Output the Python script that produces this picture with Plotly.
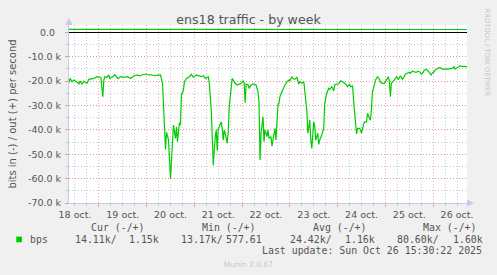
import pandas as pd
import plotly.graph_objects as go

# ---------------- data ----------------
start_time = "2025-10-18 09:00"
end_time = "2025-10-26 17:00"

# hours since start_time
in_hours = [0, 0.5, 1.5, 2.5, 4, 5, 5.5, 6.5, 7.5, 9,
            10, 11.5, 12.5, 14, 15, 16, 17, 17.5, 18, 19,
            20, 20.5, 22, 23, 24.5, 26, 27.5, 29.5, 31, 32.5,
            34.5, 35.5, 37, 38.5, 40, 41.5, 43, 45, 46, 47,
            47.5, 48.5, 49, 50, 51, 52, 52.5, 53.5, 54, 54.5,
            55.5, 56, 56.5, 57.5, 58, 59, 60.5, 61.5, 62.5, 64,
            65.5, 66.5, 67.5, 68.5, 70, 70.5, 71.5, 72, 72.5, 73.5,
            74, 74.5, 75, 75.5, 76.5, 77, 77.5, 78, 78.5, 79.5,
            80, 80.5, 81.5, 82, 82.5, 83.5, 84.5, 85.5, 86.5, 87.5,
            88, 88.5, 89, 90, 90.5, 91.5, 92.5, 94, 95, 95.5,
            96, 96.5, 97.5, 98, 98.5, 99.5, 100, 100.5, 101.5, 102,
            102.5, 103, 103.5, 104, 105, 105.5, 106, 107, 108, 108.5,
            109.5, 110.5, 111, 112, 112.5, 113.5, 114.5, 115.5, 116, 117,
            118, 118.5, 119.5, 120, 120.5, 121, 121.5, 122, 123, 123.5,
            124, 125, 125.5, 126, 127, 128, 128.5, 129.5, 130.5, 131,
            132, 133, 133.5, 134.5, 135.5, 136.5, 137.5, 138.5, 139, 140,
            141, 141.5, 142.5, 143, 144, 144.5, 145, 146, 146.5, 147,
            148, 148.5, 149.5, 150, 151, 151.5, 152, 152.5, 153.5, 154,
            155, 156, 156.5, 157.5, 158.5, 159, 160, 160.5, 161, 161.5,
            162, 163, 163.5, 164.5, 165.5, 166, 166.5, 167.5, 168.5, 169,
            170, 171, 171.5, 172.5, 173.5, 174.5, 175.5, 176.5, 177, 178,
            178.5, 179.5, 180.5, 181.5, 182, 182.5, 183.5, 184, 185, 186,
            186.5, 187.5, 190, 192.5, 193.5, 194, 195, 196, 196.5, 197.5,
            200]

# bits in per second (k), drawn negative
in_kbps = [20.7, 18.9, 20.3, 19.6, 20.5, 21.2, 20.0, 21.2, 20.1, 20.9,
           19.3, 19.2, 18.9, 18.2, 18.2, 18.5, 26.4, 19.6, 18.2, 18.5,
           17.5, 18.9, 18.2, 17.4, 18.9, 18.2, 18.5, 18.2, 18.9, 17.9,
           17.5, 17.9, 17.4, 17.1, 17.5, 17.4, 17.8, 17.4, 17.5, 21.0,
           30.0, 48.0, 41.0, 44.0, 60.0, 45.5, 38.0, 43.5, 38.7, 44.9,
           37.1, 38.0, 25.7, 23.7, 20.3, 18.9, 18.2, 17.2, 18.5, 17.5,
           17.9, 18.2, 17.8, 18.9, 18.2, 20.9, 31.9, 42.8, 54.5, 42.8,
           40.1, 48.6, 39.4, 38.7, 36.7, 39.4, 44.2, 40.1, 41.4, 45.5,
           40.8, 30.5, 23.0, 18.9, 19.6, 20.9, 21.6, 21.2, 20.9, 19.9,
           20.7, 28.9, 21.2, 21.6, 23.0, 21.6, 21.2, 21.6, 24.4, 29.1,
           52.4, 41.4, 34.6, 44.9, 40.1, 42.8, 40.0, 43.5, 42.8, 46.7,
           43.5, 40.8, 39.4, 44.2, 29.8, 29.1, 26.4, 24.4, 22.3, 21.6,
           20.3, 19.6, 19.9, 18.2, 18.9, 19.3, 18.5, 21.2, 20.3, 20.9,
           20.3, 23.7, 31.9, 41.4, 39.4, 36.0, 44.2, 47.6, 36.7, 38.7,
           44.2, 41.4, 46.0, 44.2, 42.1, 39.4, 29.1, 25.0, 23.0, 23.4,
           22.3, 24.0, 21.6, 21.2, 21.2, 19.9, 20.3, 20.9, 21.2, 22.3,
           21.2, 22.3, 22.0, 27.8, 36.0, 41.7, 39.4, 39.4, 40.1, 41.4,
           38.0, 36.7, 36.7, 33.2, 35.3, 36.0, 31.2, 24.4, 21.6, 19.6,
           18.2, 19.2, 20.5, 20.9, 20.9, 20.0, 18.9, 18.2, 20.3, 26.4,
           20.9, 20.0, 19.6, 18.2, 19.2, 18.6, 17.8, 19.2, 18.2, 17.2,
           16.8, 16.4, 16.8, 15.9, 16.2, 16.4, 15.9, 16.4, 17.2, 16.4,
           15.5, 15.1, 15.9, 16.8, 17.5, 16.8, 16.2, 15.5, 14.8, 14.5,
           14.5, 15.1, 15.1, 14.8, 14.1, 15.1, 14.5, 14.1, 13.7, 14.0,
           14.1]

out_hours = [0, 50, 100, 150, 200]
out_kbps = [1.2, 1.15, 1.2, 1.15, 1.15]

y_tick_vals = [0, -10000, -20000, -30000, -40000, -50000, -60000, -70000]
y_tick_text = ["0.0\u00a0\u00a0", "-10.0 k", "-20.0 k", "-30.0 k", "-40.0 k",
               "-50.0 k", "-60.0 k", "-70.0 k"]

legend_headers = ["Cur (-/+)", "Min (-/+)", "Avg (-/+)", "Max (-/+)"]
legend_in = ["14.11k/", "13.17k/", "24.42k/", "80.60k/"]
legend_out = ["1.15k", "577.61", "1.16k", "1.60k"]
last_update = "Last update: Sun Oct 26 15:30:22 2025"

# ---------------- figure ----------------
t0 = pd.Timestamp(start_time)
in_x = [t0 + pd.Timedelta(hours=h) for h in in_hours]
out_x = [t0 + pd.Timedelta(hours=h) for h in out_hours]

GREEN = "#00CC00"
TXT = "#555555"
MAJ = "rgba(230,120,120,0.65)"
MIN = "rgba(175,175,175,0.65)"
AXC = "#C8C8F2"

W, H = 497, 275
PL, PR, PT, PB = 67, 467, 25, 203


def px(x):
    return (x - PL) / (PR - PL)


def py(y):
    return (PB - y) / (PB - PT)


fig = go.Figure()
fig.add_trace(go.Scatter(x=in_x, y=[-v * 1000 for v in in_kbps], mode="lines",
                         line=dict(color=GREEN, width=1.2), showlegend=False))
fig.add_trace(go.Scatter(x=out_x, y=[v * 1000 for v in out_kbps], mode="lines",
                         line=dict(color=GREEN, width=1.2), showlegend=False))

fig.update_layout(
    width=W, height=H,
    margin=dict(l=PL, r=W - PR, t=PT, b=H - PB),
    paper_bgcolor="#F0F0F0", plot_bgcolor="#FFFFFF",
    font=dict(family="DejaVu Sans", size=9.5, color=TXT),
    title=dict(text="ens18 traffic - by week", x=0.5, xref="container", xanchor="center",
               y=1 - 19.5 / H, yref="container", yanchor="middle",
               font=dict(family="DejaVu Sans", size=12.6, color=TXT)),
)

fig.update_xaxes(
    type="date", range=[start_time, end_time],
    tick0="2025-10-18", dtick=86400000, ticklabelmode="period", tickformat="%d oct.",
    showgrid=True, gridcolor=MAJ, griddash="1px,2px", gridwidth=1,
    ticks="outside", ticklen=3, tickcolor=MAJ,
    showline=True, linecolor=AXC, linewidth=1,
    minor=dict(dtick=6 * 3600 * 1000, showgrid=True, gridcolor=MIN, griddash="1px,2px",
               ticks="outside", ticklen=2, tickcolor=MIN),
    tickfont=dict(size=9.5, color=TXT), zeroline=False,
)
fig.update_yaxes(
    range=[-70000, 3000], tickvals=y_tick_vals, ticktext=y_tick_text,
    showgrid=True, gridcolor=MAJ, griddash="1px,2px", gridwidth=1,
    ticks="outside", ticklen=3, tickcolor=MAJ, ticklabelstandoff=2,
    showline=True, linecolor=AXC, linewidth=1,
    minor=dict(dtick=5000, showgrid=True, gridcolor=MIN, griddash="1px,2px",
               ticks="outside", ticklen=2, tickcolor=MIN),
    zeroline=True, zerolinecolor="#000000", zerolinewidth=1,
    title=dict(text="bits in (-) / out (+) per second", standoff=9,
               font=dict(size=10, color=TXT)),
    tickfont=dict(size=9.5, color=TXT),
)

# axis arrows
pw, ph = PR - PL, PB - PT
fig.add_shape(type="path", xref="paper", yref="paper",
              path=f"M 1 {3.5/ph} L {7/pw + 1} 0 L 1 {-3.5/ph} Z",
              fillcolor=AXC, line=dict(width=0))
fig.add_shape(type="path", xref="paper", yref="paper",
              path=f"M {-3.5/pw} 1 L 0 {1 + 7/ph} L {3.5/pw} 1 Z",
              fillcolor=AXC, line=dict(width=0))

MONO = dict(family="DejaVu Sans Mono", size=9.9, color=TXT)

def ann(text, x, y, xanchor="left", font=MONO, **kw):
    fig.add_annotation(text=text, x=px(x), y=py(y), xref="paper", yref="paper",
                       xanchor=xanchor, yanchor="middle", showarrow=False,
                       font=font, borderpad=0, **kw)

header_x = [89, 201, 312, 423]
in_x_left = [72.7, 180, 289, 397]
out_x_right = [157.7, 260.7, 375, 482.7]
for htxt, hx in zip(legend_headers, header_x):
    ann(htxt, hx - 1, 227.7)
ann("bps", 26.5, 239.3)
for t, x in zip(legend_in, in_x_left):
    ann(t, x - 1, 239.3)
for t, x in zip(legend_out, out_x_right):
    ann(t, x + 1, 239.3, xanchor="right")
ann(last_update, 483.5, 250.7, xanchor="right")
ann("Munin 2.0.67", 247.5, 264, xanchor="center",
    font=dict(family="DejaVu Sans", size=7.5, color="#C8C8C8"))
ann("RRDTOOL / TOBI OETIKER", 487.5, 53, xanchor="center",
    font=dict(family="DejaVu Sans", size=6.8, color="#C4C4C4"), textangle=90)

fig.add_shape(type="rect", xref="paper", yref="paper",
              x0=px(14), x1=px(19.7), y0=py(242.3), y1=py(236.6),
              fillcolor=GREEN, line=dict(width=0))

fig.write_html("out.html")
